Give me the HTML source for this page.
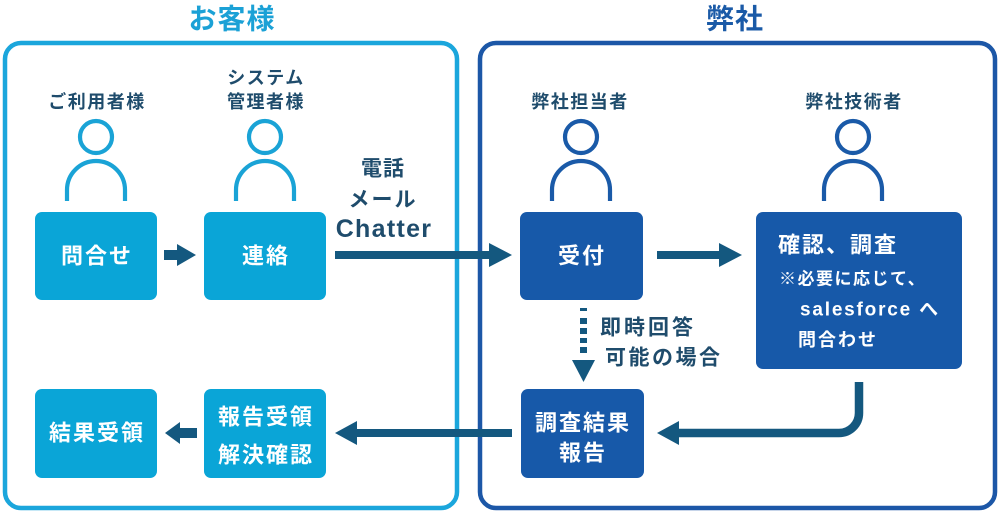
<!DOCTYPE html>
<html><head><meta charset="utf-8">
<style>
html,body{margin:0;padding:0;background:#fff;}
svg{display:block;}
text{font-family:"Liberation Sans","Noto Sans CJK JP",sans-serif;font-weight:bold;}
</style></head>
<body>
<svg width="1000" height="513" viewBox="0 0 1000 513" xmlns="http://www.w3.org/2000/svg">
<rect width="1000" height="513" fill="#fff"/>

<!-- titles -->
<text x="232" y="19" font-size="28" fill="#1ba1d6" text-anchor="middle" dominant-baseline="central" letter-spacing="1">お客様</text>
<text x="735" y="19" font-size="28" fill="#1a5aa7" text-anchor="middle" dominant-baseline="central" letter-spacing="1">弊社</text>

<!-- panels -->
<rect x="5" y="43" width="452" height="465" rx="16" fill="none" stroke="#1ba6dc" stroke-width="4.5"/>
<rect x="480" y="43" width="515" height="465" rx="16" fill="none" stroke="#1c57a7" stroke-width="4.5"/>

<!-- person labels -->
<g font-size="18" fill="#1f4c6c" text-anchor="middle" dominant-baseline="central" letter-spacing="1.5">
<text x="97" y="102">ご利用者様</text>
<text x="266" y="78">システム</text>
<text x="266" y="102">管理者様</text>
<text x="580" y="102">弊社担当者</text>
<text x="854" y="102">弊社技術者</text>
</g>

<!-- persons -->
<g fill="none" stroke-width="4.2">
<g stroke="#1aa3d6">
<circle cx="96" cy="137" r="16"/>
<path d="M67 201 L67 190 A29 29 0 0 1 125 190 L125 201"/>
<circle cx="265" cy="137" r="16"/>
<path d="M236 201 L236 190 A29 29 0 0 1 294 190 L294 201"/>
</g>
<g stroke="#1a5aa8">
<circle cx="581" cy="137" r="16"/>
<path d="M552 201 L552 190 A29 29 0 0 1 610 190 L610 201"/>
<circle cx="853" cy="137" r="16"/>
<path d="M824 201 L824 190 A29 29 0 0 1 882 190 L882 201"/>
</g>
</g>

<!-- boxes -->
<g fill="#0aa5d7">
<rect x="35" y="212" width="122" height="88" rx="7"/>
<rect x="204" y="212" width="122" height="88" rx="7"/>
<rect x="35" y="389" width="122" height="89" rx="7"/>
<rect x="204" y="389" width="122" height="89" rx="7"/>
</g>
<g fill="#1759a9">
<rect x="520" y="212" width="123" height="88" rx="7"/>
<rect x="756" y="212" width="206" height="157" rx="7"/>
<rect x="521" y="389" width="123" height="89" rx="7"/>
</g>

<!-- box texts -->
<g font-size="22" fill="#fff" text-anchor="middle" dominant-baseline="central" letter-spacing="2">
<text x="97" y="256">問合せ</text>
<text x="266" y="256">連絡</text>
<text x="97" y="433">結果受領</text>
<text x="266" y="417">報告受領</text>
<text x="266" y="455">解決確認</text>
<text x="582" y="256">受付</text>
<text x="583" y="423">調査結果</text>
<text x="583" y="453">報告</text>
</g>
<g fill="#fff" dominant-baseline="central">
<text x="778" y="245" font-size="22" letter-spacing="2">確認、調査</text>
<text x="779" y="279" font-size="17" letter-spacing="1.5">※必要に応じて、</text>
<text x="800" y="310" font-size="19" letter-spacing="1.8">salesforce へ</text>
<text x="798" y="340" font-size="18" letter-spacing="2">問合わせ</text>
</g>

<!-- connector labels -->
<g fill="#1f4c6c" dominant-baseline="central">
<text x="383" y="169" font-size="21" text-anchor="middle" letter-spacing="1">電話</text>
<text x="383" y="200" font-size="21" text-anchor="middle" letter-spacing="2">メール</text>
<text x="384" y="229" font-size="25" text-anchor="middle" letter-spacing="1.3" font-weight="normal" style="font-weight:600">Chatter</text>
<text x="600" y="328" font-size="21" letter-spacing="3">即時回答</text>
<text x="605" y="358" font-size="21" letter-spacing="2.5">可能の場合</text>
</g>

<!-- arrows -->
<g fill="#14587f" stroke="none">
<!-- 問合せ -> 連絡 -->
<rect x="164" y="250" width="14" height="10"/>
<polygon points="177,244 196,255 177,266"/>
<!-- 連絡 -> 受付 -->
<rect x="335" y="251" width="156" height="8"/>
<polygon points="489,243 512,255 489,267"/>
<!-- 受付 -> 確認 -->
<rect x="657" y="251" width="64" height="8"/>
<polygon points="719,243 742,255 719,267"/>
<!-- dotted down -->
<rect x="580" y="308" width="7" height="3"/>
<rect x="580" y="318" width="7" height="6"/>
<rect x="580" y="328" width="7" height="6"/>
<rect x="580" y="338" width="7" height="5"/>
<rect x="580" y="347" width="7" height="6"/>
<polygon points="572,360 595,360 583.5,382"/>
<!-- 調査結果 -> 報告受領 -->
<rect x="355" y="429" width="157" height="8"/>
<polygon points="357,421 335,433 357,445"/>
<!-- 報告受領 -> 結果受領 -->
<rect x="178" y="428" width="19" height="10"/>
<polygon points="180,422 165,433 180,444"/>
<!-- 確認 -> 調査結果 -->
<polygon points="679,421 657,433 679,445"/>
</g>
<path d="M859 382 L859 413 A20 20 0 0 1 839 433 L677 433" fill="none" stroke="#14587f" stroke-width="8.5"/>
</svg>
</body></html>
